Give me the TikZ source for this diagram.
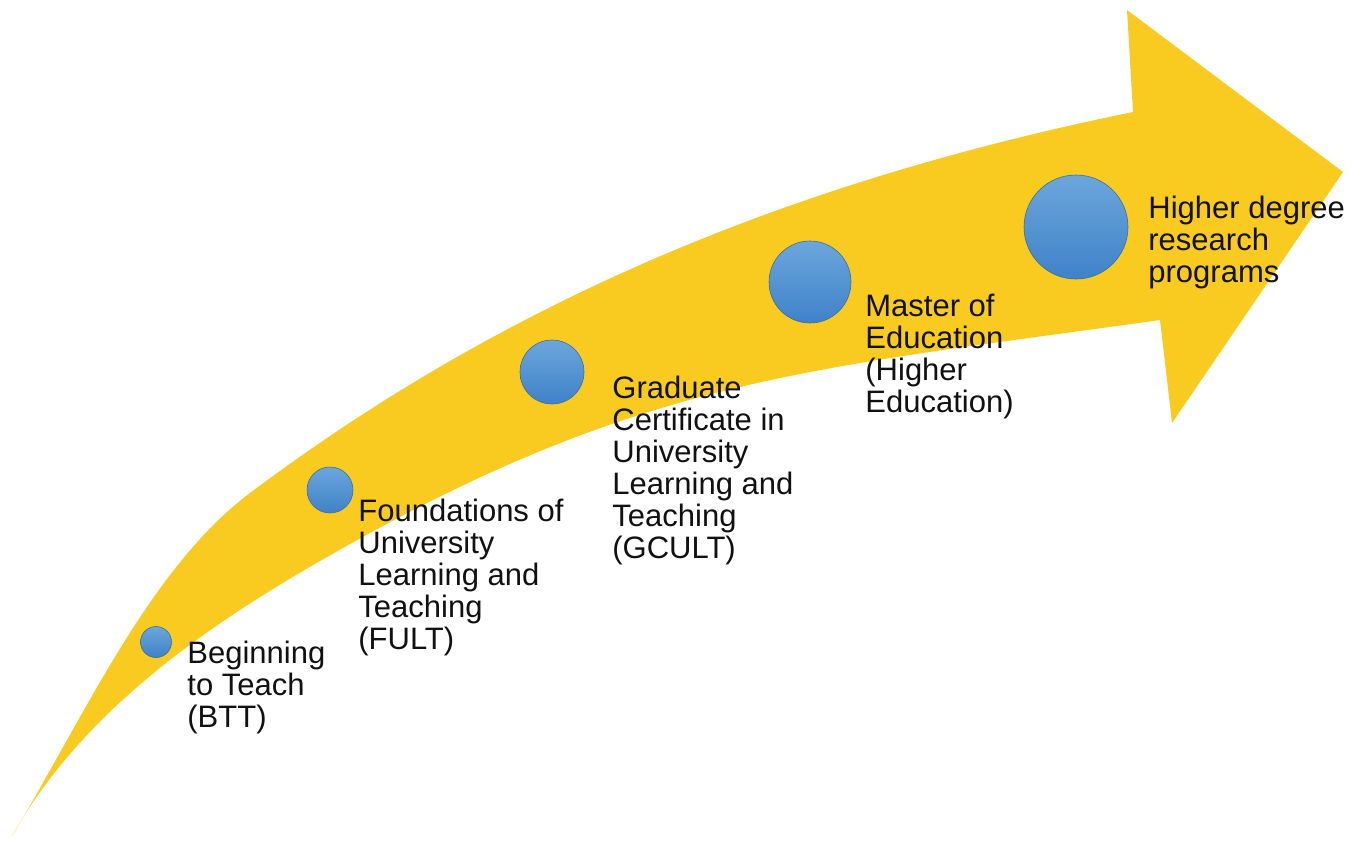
\documentclass[tikz,border=0pt]{standalone}
\usepackage{fontspec}
\setmainfont{Liberation Sans}
\definecolor{arrowyellow}{HTML}{F9CB21}
\definecolor{dotlight}{HTML}{6CA6DC}
\definecolor{dotdark}{HTML}{3F82C8}
\definecolor{labelink}{HTML}{111111}
\begin{document}
\begin{tikzpicture}[x=0.5pt,y=-0.5pt,
  dot/.style={circle, inner sep=0pt, top color=dotlight, bottom color=dotdark,
    draw=dotdark!85!black, line width=0.3pt},
  lbl/.style={anchor=north west, inner sep=0pt, align=left, text=labelink,
    font=\fontsize{15.5}{16}\selectfont}]
\useasboundingbox (0,0) rectangle (1364,842);
% curved arrow
\fill[arrowyellow]
  (12,836) .. controls (85,715) and (150,568) .. (250,493)
           .. controls (506,301) and (790,182) .. (1133,112)
  -- (1127,10) -- (1343,172) -- (1172,423) -- (1160,320)
  .. controls (804,370) and (640,377) .. (320,561)
  .. controls (200,630) and (80,715) .. (12,836)
  -- cycle;
% dots
\node[dot, minimum size=15.5pt] (btt) at (156,642) {};
\node[dot, minimum size=23pt] (fult) at (330,490) {};
\node[dot, minimum size=32pt] (gcult) at (552,372) {};
\node[dot, minimum size=41pt] (med) at (810,282) {};
\node[dot, minimum size=52pt] (hdr) at (1076,227) {};
% labels
\node[lbl] (bttl) at (187,641) {Beginning\\to Teach\\(BTT)};
\node[lbl] (fultl) at (358,499) {Foundations of\\University\\Learning and\\Teaching\\(FULT)};
\node[lbl] (gcultl) at (612,376) {Graduate\\Certificate in\\University\\Learning and\\Teaching\\(GCULT)};
\node[lbl] (medl) at (865,294) {Master of\\Education\\(Higher\\Education)};
\node[lbl] (hdrl) at (1148,196) {Higher degree\\research\\programs};
\end{tikzpicture}
\end{document}
